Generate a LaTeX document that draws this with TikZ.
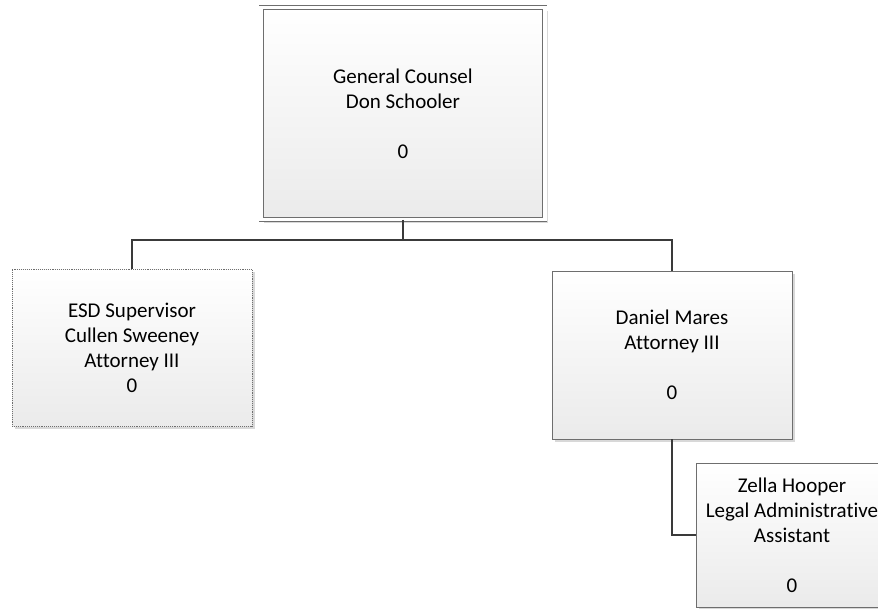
\documentclass[tikz,border=0pt]{standalone}
\usepackage{fontspec}
\setmainfont{Carlito}[Ligatures=NoCommon]
\usetikzlibrary{shadows}
\definecolor{linegray}{HTML}{3A3A3A}
\definecolor{boxgray}{HTML}{6E6E6E}
\begin{document}
\begin{tikzpicture}[x=1pt, y=-1pt,
    box/.style={rectangle, draw=boxgray, line width=0.9pt, inner sep=0pt,
      top color=white, bottom color=black!8, align=center,
      font=\fontsize{21}{25}\selectfont,
      drop shadow={shadow xshift=3pt, shadow yshift=-3pt, fill=black!30, opacity=.5}},
    conn/.style={draw=linegray, line width=2.4pt}]
      \useasboundingbox (0,0) rectangle (878,608);
      \clip (0,0) rectangle (878,608);
      \node[box, double, double distance=3.6pt, minimum width=283.5pt, minimum height=212pt] (gc) at (403,113.5){General Counsel\\Don Schooler\\[25pt]0};
      \node[box, densely dotted, minimum width=240pt, minimum height=157pt] (esd) at (132,347.5){ESD Supervisor\\Cullen Sweeney\\Attorney III\\0};
      \node[box, minimum width=240pt, minimum height=168pt] (dm) at (672,355){Daniel Mares\\Attorney III\\[25pt]0};
      \node[box, minimum width=192pt, minimum height=144pt] (zh) at (792,535){Zella Hooper\\Legal Administrative\\Assistant\\[25pt]0};
      \coordinate (bus) at (403,240);
      \draw[conn](gc.south) -- (bus) -| (esd.north);
      \draw[conn](bus) -| (dm.north);
      \draw[conn](dm.south) |- (zh.west);

    \end{tikzpicture}
\end{document}
